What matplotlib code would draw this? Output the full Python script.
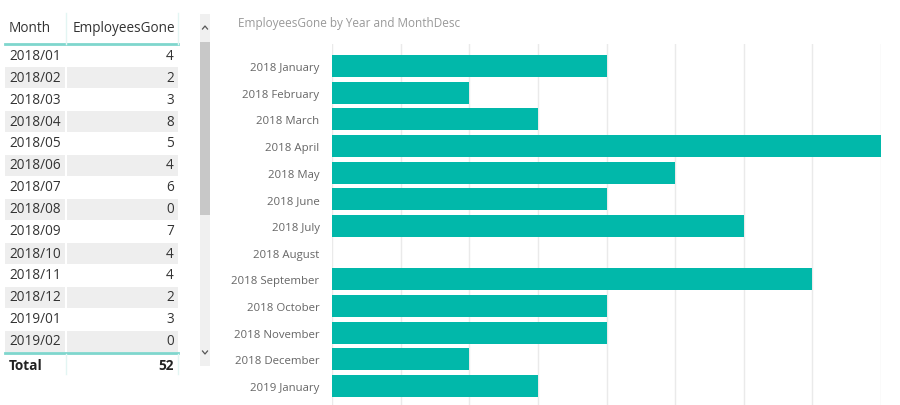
import matplotlib.pyplot as plt
from matplotlib.patches import Rectangle

plt.rcParams['font.family'] = ['Open Sans', 'DejaVu Sans']

# dati della tabella
table_months = ['2018/01', '2018/02', '2018/03', '2018/04', '2018/05', '2018/06', '2018/07',
                '2018/08', '2018/09', '2018/10', '2018/11', '2018/12', '2019/01', '2019/02']
table_values = [4, 2, 3, 8, 5, 4, 6, 0, 7, 4, 4, 2, 3, 0]

# dati del grafico a barre
bar_labels = ['2018 January', '2018 February', '2018 March', '2018 April', '2018 May',
              '2018 June', '2018 July', '2018 August', '2018 September', '2018 October',
              '2018 November', '2018 December', '2019 January']
bar_values = [4, 2, 3, 8, 5, 4, 6, 0, 7, 4, 4, 2, 3]

W, H = 900, 406
teal = '#01B8AA'
fig = plt.figure(figsize=(W / 100, H / 100), dpi=100)

# overlay in pixel per tabella e scrollbar
ov = fig.add_axes([0, 0, 1, 1])
ov.set_xlim(0, W)
ov.set_ylim(H, 0)
ov.axis('off')

x0, xsep, x1 = 5, 66, 178
top = 45
rh = 22
fs = 9.8
ov.text(9, 28, 'Month', fontsize=fs, color='#333333', va='center')
ov.text(175, 28, 'EmployeesGone', fontsize=fs, color='#333333', va='center', ha='right')
ov.plot([x0, x1], [top, top], color='#7fd6cd', lw=2)
ov.plot([xsep, xsep], [14, top], color='#e3f5f3', lw=1)
ov.plot([x1, x1], [14, top], color='#e3f5f3', lw=1)

for i, (m, v) in enumerate(zip(table_months, table_values)):
    yc = top + rh * i + rh / 2
    if i % 2 == 1:
        ov.add_patch(Rectangle((x0, top + rh * i + 1), xsep - x0 - 1, rh - 1, color='#eeeeee', lw=0))
        ov.add_patch(Rectangle((xsep + 1, top + rh * i + 1), x1 - xsep - 1, rh - 1, color='#eeeeee', lw=0))
    ov.text(9, yc, m, fontsize=fs, color='#333333', va='center')
    ov.text(174, yc, str(v), fontsize=fs, color='#333333', va='center', ha='right')

bot = top + rh * len(table_months)
ov.plot([x0, x1], [bot + 1, bot + 1], color='#7fd6cd', lw=2)
ov.plot([xsep, xsep], [bot + 2, bot + 22], color='#e3f5f3', lw=1)
ov.plot([x1, x1], [bot + 2, bot + 22], color='#e3f5f3', lw=1)
ov.text(9, bot + 13, 'Total', fontsize=fs, color='#222222', va='center', fontweight='bold')
ov.text(174, bot + 13, str(sum(table_values)), fontsize=fs, color='#222222', va='center',
        ha='right', fontweight='bold')

# scrollbar
ov.add_patch(Rectangle((200, 15), 10, 352, color='#f0f0f0', lw=0))
ov.add_patch(Rectangle((200, 43), 10, 173, color='#c8c8c8', lw=0))
ov.plot([202.5, 205, 207.5], [30, 27, 30], color='#555555', lw=0.9)
ov.plot([202.5, 205, 207.5], [352, 355, 352], color='#555555', lw=0.9)

# titolo
fig.text(238 / W, 1 - 23 / H, 'EmployeesGone by Year and MonthDesc', fontsize=8.5,
         color='#999999', va='center')

# grafico a barre
ax = fig.add_axes([332 / W, 0, 549 / W, 1 - 45 / H])
pos = list(range(len(bar_labels)))
ax.barh(pos, bar_values, height=0.82, color=teal, lw=0, zorder=3)
ax.set_xlim(0, 8)
ax.set_ylim((H - 67) / 26.67, -0.825)
ax.set_yticks(pos)
ax.set_yticklabels(bar_labels, fontsize=8.2, color='#666666')
ax.set_xticks(range(0, 9))
ax.set_xticklabels([])
ax.tick_params(length=0, pad=9)
ax.grid(axis='x', color='#eaeaea', lw=1, zorder=0)
for s in ax.spines.values():
    s.set_visible(False)
ax.patch.set_alpha(0)

fig.savefig('out.png', dpi=100)
